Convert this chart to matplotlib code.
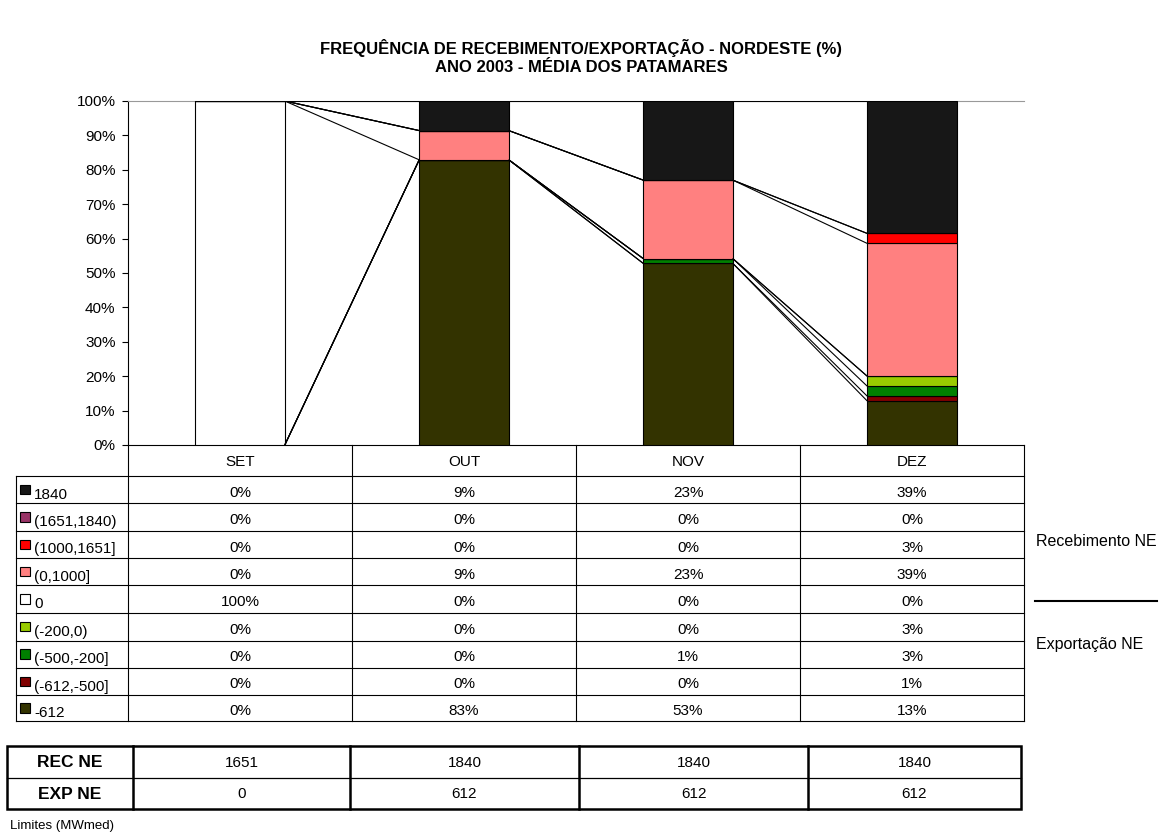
import numpy as np
import matplotlib
matplotlib.use("Agg")
import matplotlib.pyplot as plt
from matplotlib.patches import Rectangle

plt.rcParams['font.family'] = ['Liberation Sans', 'DejaVu Sans']

# ---------------- data ----------------
months = ["SET", "OUT", "NOV", "DEZ"]
# series in stacking order (bottom -> top)
series_names = ["-612", "(-612,-500]", "(-500,-200]", "(-200,0)", "0",
                "(0,1000]", "(1000,1651]", "(1651,1840)", "1840"]
series_colors = ["#333300", "#800000", "#008000", "#99CC00", "#FFFFFF",
                 "#FF8080", "#FF0000", "#993366", "#171717"]
v_m612 = [0.0, 82.9, 52.8, 12.8]
v_m612_m500 = [0.0, 0.0, 0.0, 1.4]
v_m500_m200 = [0.0, 0.0, 1.4, 2.9]
v_m200_0 = [0.0, 0.0, 0.0, 2.9]
v_0 = [100.0, 0.0, 0.0, 0.0]
v_0_1000 = [0.0, 8.5, 22.8, 38.6]
v_1000_1651 = [0.0, 0.0, 0.0, 2.9]
v_1651_1840 = [0.0, 0.0, 0.0, 0.0]
v_1840 = [0.0, 8.6, 23.0, 38.5]
series_values = [v_m612, v_m612_m500, v_m500_m200, v_m200_0, v_0,
                 v_0_1000, v_1000_1651, v_1651_1840, v_1840]

rec_ne = [1651, 1840, 1840, 1840]
exp_ne = [0, 612, 612, 612]

title = "FREQUÊNCIA DE RECEBIMENTO/EXPORTAÇÃO - NORDESTE (%)\nANO 2003 - MÉDIA DOS PATAMARES"

FS = 11  # body font size

# ---------------- layout ----------------
W, H = 1163, 840
fig = plt.figure(figsize=(W / 100, H / 100), dpi=100)

def ax_px(l, t, r, b):
    return fig.add_axes([l / W, 1 - b / H, (r - l) / W, (b - t) / H])

PL, PT, PR, PB = 128, 101, 1024, 445
ax = ax_px(PL, PT, PR, PB)
x = np.arange(len(months))
bw = 0.4
bottom = np.zeros(len(months))
tops = []
for name, vals, col in zip(series_names, series_values, series_colors):
    vals = np.array(vals)
    ax.bar(x, vals, bw, bottom=bottom, color=col, edgecolor="black",
           linewidth=0.8, zorder=3)
    bottom = bottom + vals
    tops.append(bottom.copy())

# series lines
for t in tops:
    for i in range(len(months) - 1):
        ax.plot([x[i] + bw / 2, x[i + 1] - bw / 2], [t[i], t[i + 1]],
                color="black", lw=0.8, zorder=4, solid_capstyle="butt")

ax.set_xlim(-0.5, len(months) - 0.5)
ax.set_ylim(0, 100)
ax.set_yticks(np.arange(0, 101, 10))
ax.set_yticklabels([f"{v}%" for v in range(0, 101, 10)], fontsize=FS)
ax.tick_params(axis="y", length=4, width=0.8, pad=5, direction="out")
ax.set_xticks([])
ax.spines["right"].set_visible(False)
ax.spines["top"].set_color("#999999")
ax.spines["top"].set_linewidth(0.8)
ax.spines["left"].set_linewidth(0.8)
ax.spines["bottom"].set_linewidth(0.8)

# ---------------- overlay (pixel coordinates) ----------------
ov = fig.add_axes([0, 0, 1, 1])
ov.set_xlim(0, W)
ov.set_ylim(H, 0)
ov.axis("off")

fig.text(0.5, 1 - 57 / H, title, ha="center", va="center", fontsize=12,
         fontweight="bold", linespacing=1.2)

# data table
col_edges = [PL, 352, 576, 800, PR]
TL = 16
row_edges = [PB, 476, 503.3, 530.7, 558.3, 585.3, 612.7, 640.7, 667.7, 695.3, 721]
lw = 0.8
ov.plot([PL, PL], [PB, row_edges[-1]], color="black", lw=lw)
for cx in col_edges[1:]:
    ov.plot([cx, cx], [PB, row_edges[-1]], color="black", lw=lw)
ov.plot([TL, TL], [row_edges[1], row_edges[-1]], color="black", lw=lw)
for ry in row_edges[1:]:
    ov.plot([TL, PR], [ry, ry], color="black", lw=lw)

for i, m in enumerate(months):
    cx = (col_edges[i] + col_edges[i + 1]) / 2
    ov.text(cx, (row_edges[0] + row_edges[1]) / 2 + 1.5, m, ha="center",
            va="center", fontsize=FS)

order = list(range(len(series_names)))[::-1]
for r, si in enumerate(order):
    y0, y1 = row_edges[r + 1], row_edges[r + 2]
    yc = (y0 + y1) / 2 + 3
    ov.add_patch(Rectangle((20, yc - 8), 9.5, 9.5, facecolor=series_colors[si],
                           edgecolor="black", lw=0.8))
    ov.text(34, yc + 2, series_names[si], ha="left", va="center", fontsize=FS)
    for i in range(len(months)):
        cx = (col_edges[i] + col_edges[i + 1]) / 2
        v = series_values[si][i]
        ov.text(cx, yc, f"{int(np.floor(v + 0.5))}%", ha="center",
                va="center", fontsize=FS)

# right side annotation
ov.text(1036, 542, "Recebimento NE", ha="left", va="center", fontsize=11.5)
ov.plot([1035, 1157], [601, 601], color="black", lw=1.5)
ov.text(1036, 644, "Exportação NE", ha="left", va="center", fontsize=11.5)

# bottom limits table
bcols = [7, 133, 350, 579, 808, 1021]
brows = [746, 777.5, 809]
ov.add_patch(Rectangle((bcols[0], brows[0]), bcols[-1] - bcols[0],
                       brows[-1] - brows[0], fill=False, edgecolor="black",
                       lw=1.8, zorder=5))
ov.plot([bcols[0], bcols[-1]], [brows[1], brows[1]], color="black", lw=0.9)
for cx in bcols[1:-1]:
    ov.plot([cx, cx], [brows[0], brows[-1]], color="black", lw=1.8)
row_labels = ["REC NE", "EXP NE"]
row_vals = [rec_ne, exp_ne]
for r in range(2):
    yc = (brows[r] + brows[r + 1]) / 2 + 1
    ov.text((bcols[0] + bcols[1]) / 2, yc, row_labels[r], ha="center",
            va="center", fontsize=12.5, fontweight="bold")
    for i in range(len(months)):
        ov.text((bcols[i + 1] + bcols[i + 2]) / 2, yc, str(row_vals[r][i]),
                ha="center", va="center", fontsize=FS)

ov.text(10, 826, "Limites (MWmed)", ha="left", va="center", fontsize=9.5)

fig.savefig("out.png", dpi=100)
